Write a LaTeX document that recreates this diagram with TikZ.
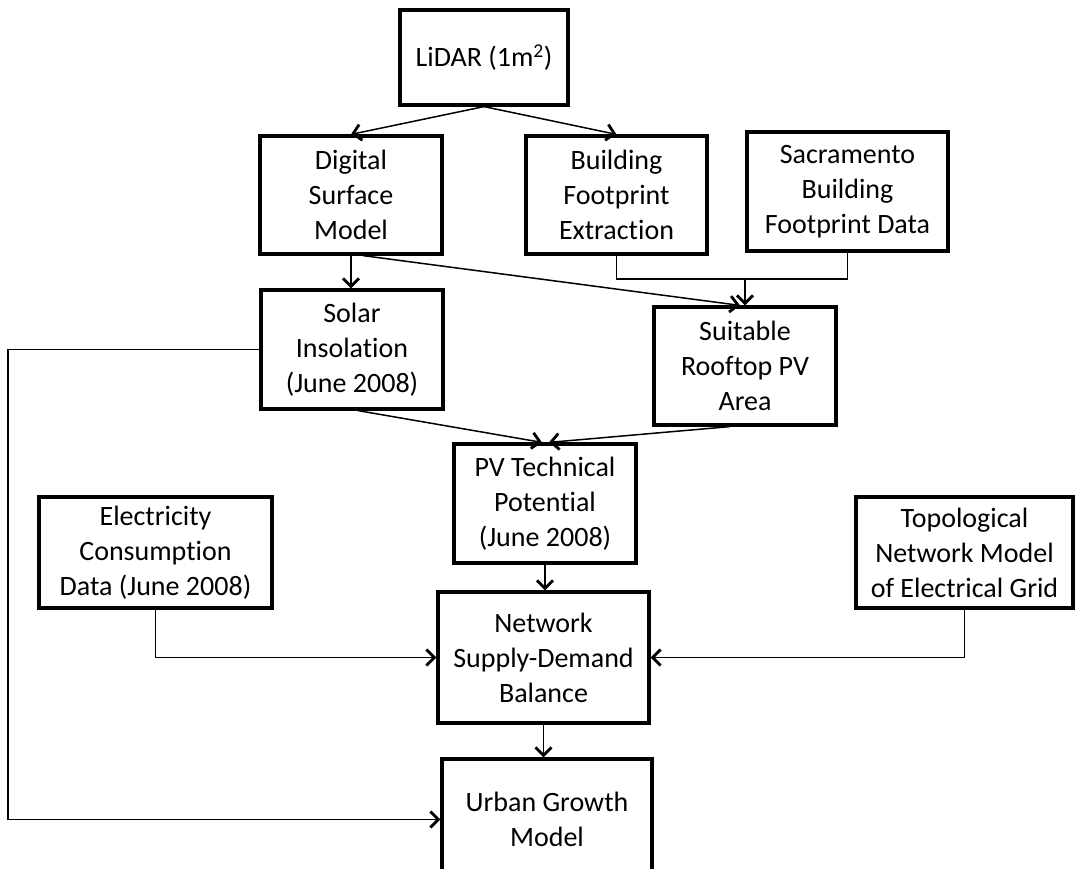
\documentclass[tikz,border=0pt]{standalone}
\usepackage{fontspec}
\setmainfont{Carlito}[Ligatures=NoCommon]
\usetikzlibrary{arrows.meta,calc}
\begin{document}
\begin{tikzpicture}[x=1pt,y=-1pt,
  box/.style={draw, line width=3.2pt, align=center, inner sep=0pt,
    font=\fontsize{28}{35}\selectfont},
  conn/.style={line width=1.5pt},
  arr/.style={conn, -{Straight Barb[length=8pt,width=16pt,line width=2.8pt]}}]
\useasboundingbox (0,0) rectangle (1089,869);
\node[box, minimum width=168pt, minimum height=95pt] (lidar) at (484,57.5) {\raisebox{-3pt}{LiDAR (1m\textsuperscript{2})}};
\node[box, minimum width=182pt, minimum height=118pt] (dsm) at (351,195) {Digital\\Surface\\Model};
\node[box, minimum width=181pt, minimum height=118pt] (bfe) at (616.5,195) {Building\\Footprint\\Extraction};
\node[box, minimum width=201pt, minimum height=119pt] (sac) at (847.5,191.5) {Sacramento\\Building\\Footprint Data};
\node[box, minimum width=182pt, minimum height=119pt] (solar) at (352,349.5) {Solar\\Insolation\\(June 2008)};
\node[box, minimum width=182pt, minimum height=118pt] (suit) at (745,366) {Suitable\\Rooftop PV\\Area};
\node[box, minimum width=182pt, minimum height=119pt] (pvt) at (545,503.5) {PV Technical\\Potential\\(June 2008)};
\node[box, minimum width=233pt, minimum height=111pt] (elec) at (155.5,552.5) {Electricity\\Consumption\\Data (June 2008)};
\node[box, minimum width=211pt, minimum height=131pt] (net) at (543.5,657.5) {Network\\Supply-Demand\\Balance};
\node[box, minimum width=210pt, minimum height=121pt] (urban) at (547,819.5) {Urban Growth\\Model};
\node[box, minimum width=217pt, minimum height=111pt] (topo) at (964.5,552.5) {Topological\\Network Model\\of Electrical Grid};
\coordinate (j) at (745,279);
\coordinate (lc) at (8,0);
\draw[arr] (lidar.south) -- (dsm.north);
\draw[arr] (lidar.south) -- (bfe.north);
\draw[arr] (dsm.south) -- (dsm.south |- solar.north);
\draw[arr] ($(dsm.south)+(12,0)$) -- ($(suit.north)+(-5,0)$);
\draw[conn] (bfe.south) |- (j) -| (sac.south);
\draw[arr] (j) -- (suit.north);
\draw[arr] ($(solar.south)+(6,0)$) -- ($(pvt.north)+(-3,0)$);
\draw[arr] ($(suit.south)+(-15,0)$) -- ($(pvt.north)+(4,0)$);
\draw[arr] (pvt.south) -- (pvt.south |- net.north);
\draw[arr] (elec.south) |- (net.west);
\draw[arr] (topo.south) |- (net.east);
\draw[arr] (net.south) -- (net.south |- urban.north);
\draw[arr] (solar.west) -- (solar.west -| lc) |- (urban.west);
\end{tikzpicture}
\end{document}
